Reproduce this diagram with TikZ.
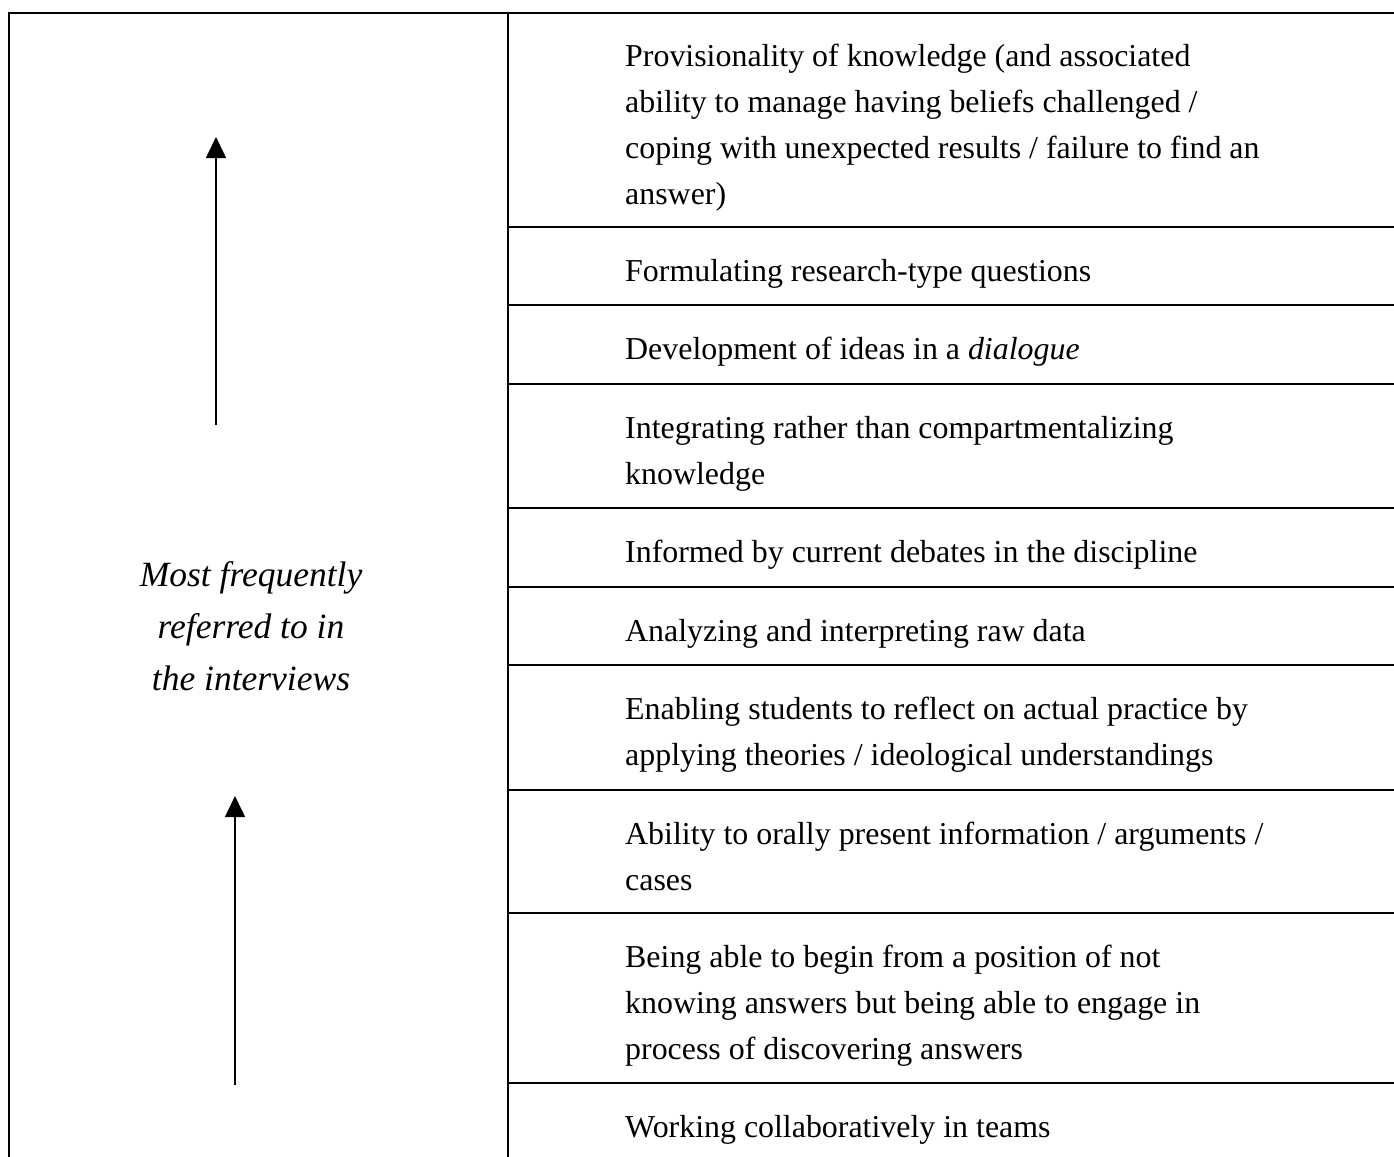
\documentclass[tikz,border=0pt]{standalone}
\usepackage{fontspec}
\setmainfont{Liberation Serif}
\usetikzlibrary{arrows.meta}
\newcommand\itemfont{\fontsize{31.9}{46}\selectfont}
\newcommand\sidefont{\fontsize{35.5}{52}\selectfont\itshape}
\newcommand\rowtext[1]{\begin{tabular}[t]{@{}l@{}}#1\end{tabular}}
\newcommand\sidetext[1]{\begin{tabular}[t]{@{}c@{}}#1\end{tabular}}
\tikzset{
  rule/.style={line width=2.2pt, line cap=rect},
  item/.style={anchor=base west, inner sep=0pt, font=\itemfont},
  side/.style={anchor=base, inner sep=0pt, font=\sidefont},
  uparrow/.style={line width=1.6pt, -{Triangle[width=20pt,length=21pt]}},
}
\begin{document}
\begin{tikzpicture}[x=1pt,y=-1pt]
\useasboundingbox (0,0) rectangle (1394,1156);
% frame
\coordinate (tl) at (9,13);
\coordinate (tr) at (1394,13);
\coordinate (bl) at (9,1156);
\coordinate (dt) at (508,13);
\coordinate (db) at (508,1156);
\draw[rule] (bl) -- (tl) -- (tr);
\draw[rule] (dt) -- (db);
% row separators
\foreach \y/\n in {227/a,305/b,384/c,508/d,587/e,665/f,790/g,913/h,1083/i}{
  \coordinate (L\n) at (508,\y);
  \coordinate (R\n) at (1394,\y);
  \draw[rule] (L\n) -- (R\n);
}
% right column texts
\node[item] (t1) at (625,66.7) {\rowtext{Provisionality of knowledge (and associated\\ability to manage having beliefs challenged /\\coping with unexpected results / failure to find an\\answer)}};
\node[item] (t2) at (625,281) {\rowtext{Formulating research-type questions}};
\node[item] (t3) at (625,359) {\rowtext{Development of ideas in a \textit{dialogue}}};
\node[item] (t4) at (625,438) {\rowtext{Integrating rather than compartmentalizing\\knowledge}};
\node[item] (t5) at (625,562) {\rowtext{Informed by current debates in the discipline}};
\node[item] (t6) at (625,641) {\rowtext{Analyzing and interpreting raw data}};
\node[item] (t7) at (625,719) {\rowtext{Enabling students to reflect on actual practice by\\applying theories / ideological understandings}};
\node[item] (t8) at (625,844) {\rowtext{Ability to orally present information / arguments /\\cases}};
\node[item] (t9) at (625,967) {\rowtext{Being able to begin from a position of not\\knowing answers but being able to engage in\\process of discovering answers}};
\node[item] (t10) at (625,1137) {\rowtext{Working collaboratively in teams}};
% left column
\node[side] (lab) at (251,586) {\sidetext{Most frequently\\referred to in\\the interviews}};
\coordinate (a1s) at (216,425);
\coordinate (a1e) at (216,137);
\coordinate (a2s) at (235,1085);
\coordinate (a2e) at (235,796);
\draw[uparrow] (a1s) -- (a1e);
\draw[uparrow] (a2s) -- (a2e);
\end{tikzpicture}
\end{document}
